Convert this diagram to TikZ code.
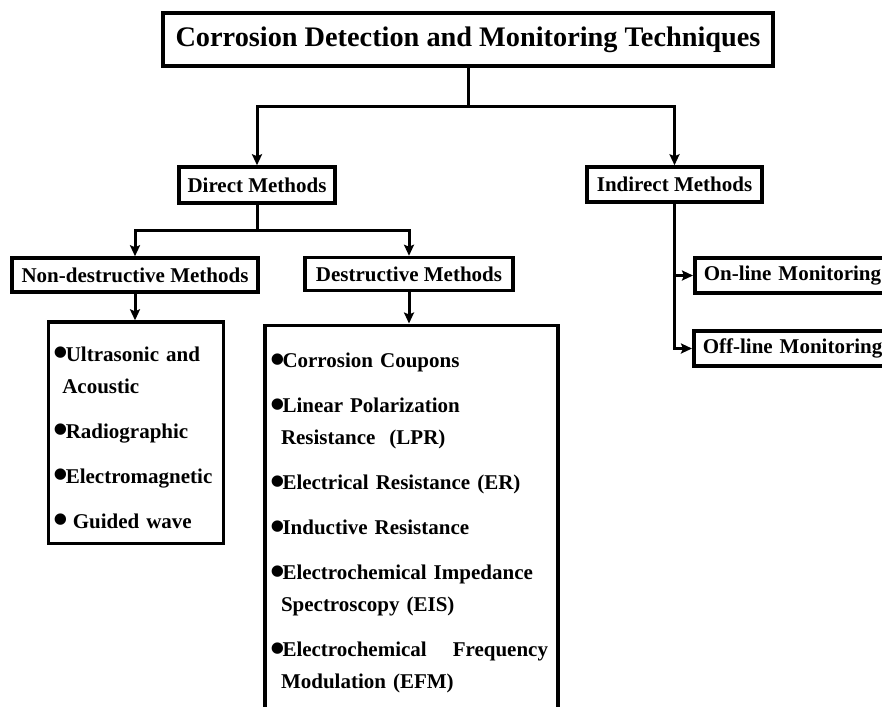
\documentclass[tikz,border=0pt]{standalone}
\usepackage{fontspec}
\setmainfont{Liberation Serif}
\usetikzlibrary{arrows.meta, positioning}

\newcommand{\bul}{\makebox[12.5pt][l]{\raisebox{-5.5pt}{\scalebox{2}{\textbullet}}}}

\begin{document}
\begin{tikzpicture}[x=1pt, y=-1pt,
  box/.style={rectangle, draw=black, line width=3.5pt, fill=white, inner sep=0pt,
              text centered, font=\fontsize{21}{25}\selectfont\bfseries},
  titlebox/.style={box, font=\fontsize{28.3}{32}\selectfont\bfseries},
  sidebox/.style={box, anchor=west, text width=200pt, align=left, inner xsep=9pt,
                  minimum height=35pt},
  listbox/.style={rectangle, draw=black, line width=3.5pt, fill=white, anchor=north,
                  align=left, inner xsep=5pt, inner ysep=10pt,
                  font=\fontsize{21}{32}\selectfont\bfseries},
  arr/.style={-{Stealth[length=11pt, width=10pt, inset=2pt]}, line width=3pt}]

  \clip (0,0) rectangle (882,706);

  \node[titlebox, minimum width=610pt, minimum height=53pt] at (468, 39.5) (title)
    {Corrosion Detection and Monitoring Techniques};

  \node[box, minimum width=156pt, minimum height=36pt] at (257, 185) (direct)
    {Direct Methods};
  \node[box, minimum width=175pt, minimum height=35pt] at (674.5, 184.5) (indirect)
    {Indirect Methods};

  \node[box, minimum width=246pt, minimum height=34pt] at (135, 275) (nondes)
    {Non-destructive Methods};
  \node[box, minimum width=208pt, minimum height=33pt] at (409, 274) (des)
    {Destructive Methods};

  \node[sidebox] at (693, 275.5) (online) {On-line Monitoring};
  \node[sidebox] at (692, 348.5) (offline) {Off-line Monitoring};

  \node[listbox, text width=165pt] at (135.8, 320.3) (ndlist)
    {\rule{0pt}{29pt}\bul Ultrasonic and\\
     \hspace*{9pt}Acoustic\\[13pt]
     \bul Radiographic\\[13pt]
     \bul Electromagnetic\\[13pt]
     \bul\ Guided wave};

  \node[listbox, text width=283pt] at (411.5, 323.5) (dlist)
    {\rule{0pt}{32.5pt}\bul Corrosion Coupons\\[13pt]
     \bul Linear Polarization\\
     \hspace*{11pt}Resistance\ \ (LPR)\\[13pt]
     \bul Electrical Resistance (ER)\\[13pt]
     \bul Inductive Resistance\\[13pt]
     \bul Electrochemical Impedance\\
     \hspace*{11pt}Spectroscopy (EIS)\\[13pt]
     \makebox[278pt][l]{\bul Electrochemical\hfill Frequency}\\
     \hspace*{11pt}Modulation (EFM)\rule[-40pt]{0pt}{40pt}};

  \draw[arr] (title.south) -- ++(0,39) -| (direct.north);
  \draw[arr] (title.south) -- ++(0,39) -| (indirect.north);
  \draw[arr] (direct.south) -- ++(0,26) -| (nondes.north);
  \draw[arr] (direct.south) -- ++(0,26) -| (des.north);
  \draw[arr] (nondes.south) -- (nondes.south |- ndlist.north);
  \draw[arr] (des.south) -- (des.south |- dlist.north);
  \draw[arr] (indirect.south) |- (online.west);
  \draw[arr] (indirect.south) |- (offline.west);

\end{tikzpicture}
\end{document}
